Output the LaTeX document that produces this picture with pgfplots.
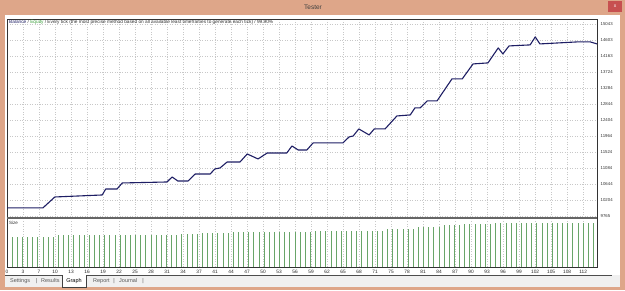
\documentclass[border=0pt]{standalone}
\usepackage{fontspec}
\setmainfont{Liberation Sans}
\usepackage{pgfplots}
\usepackage{pgfplotstable}
\pgfplotsset{compat=1.18}
\definecolor{frametan}{RGB}{222,166,137}
\definecolor{closered}{RGB}{199,80,80}
\definecolor{navy}{RGB}{30,30,100}
\definecolor{eqgreen}{RGB}{60,160,60}
\definecolor{barg}{RGB}{105,165,105}
\definecolor{gridc}{RGB}{200,200,200}
\definecolor{tabgray}{RGB}{240,240,240}

\pgfplotstableread{
n v
0 9990
7.0 9990
9.3 10288
18.5 10343
19.2 10508
21.4 10508
22.4 10673
31.1 10700
32.1 10838
33.2 10728
35.2 10728
36.6 10920
39.5 10920
40.4 11058
41.4 11085
42.8 11250
45.3 11250
46.7 11470
48.8 11333
50.6 11498
54.4 11498
55.4 11690
56.6 11580
58.3 11580
59.5 11773
65.3 11773
66.5 11938
67.3 11965
68.4 12158
70.4 11993
71.4 12158
73.5 12158
75.8 12515
78.4 12543
79.3 12735
80.3 12735
81.7 12928
83.6 12928
86.5 13533
88.5 13533
90.6 13945
93.5 13973
95.5 14385
96.4 14220
97.6 14440
101.7 14468
102.7 14688
103.6 14495
110.8 14550
113.4 14550
114.7 14495
}\balance

\pgfplotstableread{
i s
1 0.30
2 0.30
3 0.30
4 0.30
5 0.30
6 0.30
7 0.30
8 0.30
9 0.30
10 0.32
11 0.32
12 0.32
13 0.32
14 0.32
15 0.32
16 0.32
17 0.32
18 0.32
19 0.32
20 0.32
21 0.32
22 0.32
23 0.32
24 0.32
25 0.32
26 0.32
27 0.32
28 0.32
29 0.32
30 0.32
31 0.32
32 0.32
33 0.32
34 0.33
35 0.33
36 0.33
37 0.33
38 0.34
39 0.34
40 0.34
41 0.34
42 0.34
43 0.34
44 0.35
45 0.35
46 0.35
47 0.35
48 0.35
49 0.35
50 0.35
51 0.35
52 0.35
53 0.35
54 0.35
55 0.35
56 0.35
57 0.35
58 0.35
59 0.35
60 0.36
61 0.36
62 0.36
63 0.36
64 0.36
65 0.36
66 0.36
67 0.36
68 0.36
69 0.36
70 0.36
71 0.36
72 0.36
73 0.36
74 0.38
75 0.38
76 0.38
77 0.38
78 0.38
79 0.38
80 0.40
81 0.40
82 0.40
83 0.40
84 0.40
85 0.42
86 0.42
87 0.42
88 0.42
89 0.43
90 0.43
91 0.43
92 0.43
93 0.43
94 0.43
95 0.44
96 0.44
97 0.44
98 0.44
99 0.44
100 0.44
101 0.44
102 0.44
103 0.44
104 0.44
105 0.44
106 0.44
107 0.44
108 0.44
109 0.44
110 0.44
111 0.44
112 0.44
113 0.44
114 0.44
}\sizes

\pgfplotsset{
  mtgrid/.style={
    scale only axis, width=590pt,
    xmin=0, xmax=114.7,
    xtick={0,3.1111,...,112.1},
    tick style={draw=none},
    axis line style={black!80, line width=0.8pt},
    grid style={gridc, dash pattern=on 1pt off 1.5pt, line width=0.5pt},
    scaled y ticks=false, scaled x ticks=false,
    /pgf/number format/assume math mode=true,
  }
}

\begin{document}
\begin{tikzpicture}
\path[use as bounding box] (0pt,0pt) rectangle (625pt,290pt);
\fill[frametan] (0pt,0pt) rectangle (625pt,290pt);
\fill[white] (5pt,3pt) rectangle (620pt,275pt);
\fill[tabgray] (5pt,3pt) rectangle (620pt,15pt);
\draw[black!70, line width=0.8pt] (5pt,15pt) -- (612pt,15pt);
% title bar
\node[font=\fontsize{6.5}{7}\selectfont, text=black!75] at (313pt,283pt) {Tester};
\fill[closered] (608pt,278pt) rectangle (622pt,289pt);
\node[font=\fontsize{5}{5}\selectfont, text=white] at (615pt,283.5pt) {x};

\begin{axis}[mtgrid,
  at={(7pt,72pt)}, anchor=south west, height=199pt,
  ymin=9710, ymax=15180,
  xticklabels={},
  ytick={9765,10204.8,10644.7,11084.5,11524.3,11964.2,12404,12843.8,13283.7,13723.5,14163.3,14603.2,15043},
  yticklabels={9765,10204,10644,11084,11524,11964,12404,12844,13284,13724,14163,14603,15043},
  yticklabel pos=right,
  yticklabel style={font=\fontsize{4.3}{5}\selectfont, anchor=west, inner sep=0pt, xshift=3.5pt, text=black!80},
  xmajorgrids, ymajorgrids,
]
\addplot[navy, line width=1.1pt, line join=round] table[x=n, y=v] {\balance};
\end{axis}

\begin{axis}[mtgrid,
  at={(7pt,23pt)}, anchor=south west, height=49pt,
  ymin=0, ymax=0.49,
  ytick=\empty,
  xticklabels={0,3,7,10,13,16,19,22,25,28,31,34,37,41,44,47,50,53,56,59,62,65,68,71,75,78,81,84,87,90,93,96,99,102,105,108,112},
  xticklabel style={font=\fontsize{4.8}{5}\selectfont, anchor=north, inner sep=0pt, yshift=-3pt, text=black!85},
  xmajorgrids,
]
\addplot[ycomb, barg, line width=0.9pt, mark=none] table[x=i, y=s] {\sizes};
\end{axis}

\draw[black!60, line width=1.6pt] (7pt,72pt) -- (597pt,72pt);

\node[anchor=west, inner sep=0pt, font=\fontsize{4.75}{5}\selectfont, text=black!80] at (9pt,268pt)
 {\textcolor{navy}{Balance} / \textcolor{eqgreen}{Equity} / Every tick (the most precise method based on all available least timeframes to generate each tick) / 99.90\%};
\node[anchor=west, inner sep=0pt, font=\fontsize{4.5}{5}\selectfont, text=black!80] at (9pt,67pt) {Size};

% tabs
\fill[white] (62pt,3pt) rectangle (86pt,15pt);
\draw[black!75, line width=0.6pt] (62pt,15pt) -- (62pt,3pt) -- (86pt,3pt) -- (86pt,15pt);
\begin{scope}[every node/.style={font=\fontsize{5.5}{6}\selectfont, text=black!65, inner sep=0pt}]
\node[anchor=west] at (10pt,9pt) {Settings};
\node at (36.5pt,9pt) {|};
\node[anchor=west] at (41pt,9pt) {Results};
\node[text=black] at (74pt,9pt) {Graph};
\node[anchor=west] at (93pt,9pt) {Report};
\node at (114pt,9pt) {|};
\node[anchor=west] at (119pt,9pt) {Journal};
\node at (143pt,9pt) {|};
\end{scope}
\end{tikzpicture}
\end{document}
